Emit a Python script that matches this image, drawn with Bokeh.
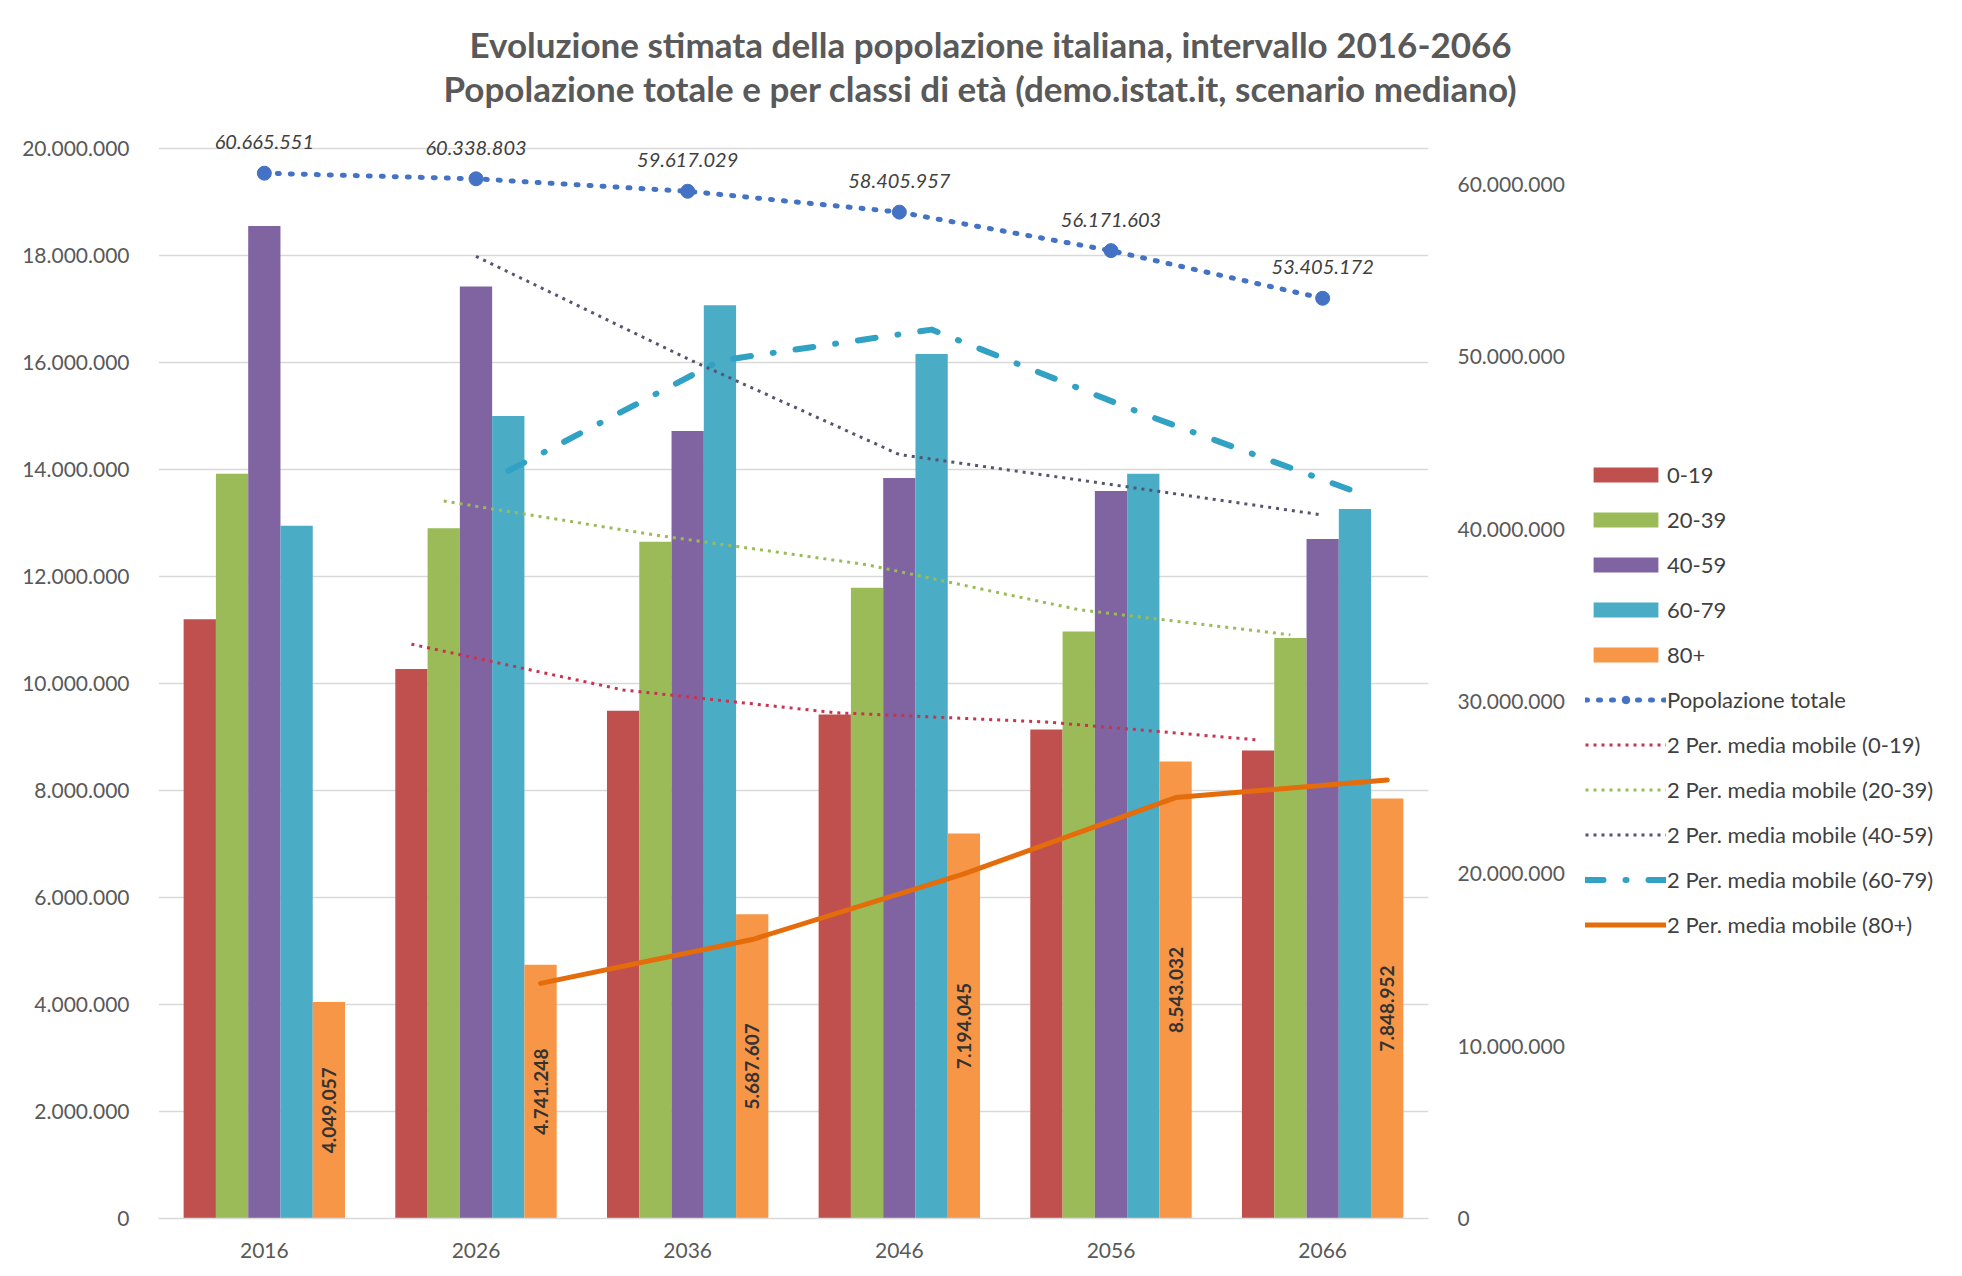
from bokeh.plotting import figure
from bokeh.models import (FactorRange, Range1d, LinearAxis, FixedTicker, Legend, LegendItem,
                          ColumnDataSource, LabelSet, Title)
from bokeh.layouts import row
from bokeh.transform import dodge
from bokeh.core.properties import value
from bokeh.embed import file_html
from bokeh.resources import INLINE
import math

# ---------------- data ----------------
years = ["2016", "2026", "2036", "2046", "2056", "2066"]
age_0_19 = [11200000, 10270000, 9490000, 9420000, 9140000, 8750000]
age_20_39 = [13920000, 12900000, 12650000, 11790000, 10970000, 10850000]
age_40_59 = [18550000, 17420000, 14720000, 13840000, 13600000, 12700000]
age_60_79 = [12950000, 15000000, 17070000, 16160000, 13920000, 13260000]
age_80_plus = [4049057, 4741248, 5687607, 7194045, 8543032, 7848952]
pop_totale = [60665551, 60338803, 59617029, 58405957, 56171603, 53405172]
series_names = ["0-19", "20-39", "40-59", "60-79", "80+"]
left_ticks = [0, 2000000, 4000000, 6000000, 8000000, 10000000, 12000000,
              14000000, 16000000, 18000000, 20000000]
right_ticks = [0, 10000000, 20000000, 30000000, 40000000, 50000000, 60000000]
title_1 = "Evoluzione stimata della popolazione italiana, intervallo 2016-2066"
title_2 = "Popolazione totale e per classi di età (demo.istat.it, scenario mediano)"
pop_label = "Popolazione totale"
ma_label = "2 Per. media mobile ({})"

# ---------------- styles ----------------
bar_colors = ["#C0504D", "#9BBB59", "#8064A2", "#4BACC6", "#F79646"]
ma_colors = ["#C8334F", "#9BBB59", "#555570", "#31A2C4", "#E46C0A"]
ma_widths = [3, 3, 3, 6, 5]
ma_dashes = ["3 5", "3 5", "3 5", "18 22 1 22", "solid"]
ma_caps = ["butt", "butt", "butt", "round", "round"]
pop_color = "#4472C4"
offsets = [-0.305, -0.1525, 0.0, 0.1525, 0.305]
bar_w = 0.1525
FONT = "Lato"
TXT = "#595959"
LEFT_MAX = 20748000     # axis tops (frame extends above the 20.000.000 gridline)
RIGHT_MAX = 64420000


def fmt(v):
    return f"{int(round(v)):,}".replace(",", ".")


series = [age_0_19, age_20_39, age_40_59, age_60_79, age_80_plus]
cols = ["a0", "a1", "a2", "a3", "a4"]

data = dict(year=years, pop=pop_totale, pop_lbl=[fmt(v) for v in pop_totale],
            half80=[v / 2 for v in age_80_plus], lbl80=[fmt(v) for v in age_80_plus])
for c, s in zip(cols, series):
    data[c] = s
src = ColumnDataSource(data)

p = figure(width=1568, height=1276, x_range=FactorRange(factors=years),
           y_range=Range1d(0, LEFT_MAX), output_backend="svg", toolbar_location=None,
           min_border_left=158, min_border_right=140, min_border_top=108, min_border_bottom=58,
           background_fill_color="white", border_fill_color="white", outline_line_color=None)
p.extra_y_ranges = {"pop": Range1d(0, RIGHT_MAX)}

# bars
for c, off, col in zip(cols, offsets, bar_colors):
    p.vbar(x=dodge("year", off, range=p.x_range), top=c, width=bar_w, source=src,
           fill_color=col, line_color=None)

# moving averages (2 periods)
for s, off, col, w, d, cap in zip(series, offsets, ma_colors, ma_widths, ma_dashes, ma_caps):
    ma = [(a + b) / 2 for a, b in zip(s[:-1], s[1:])]
    msrc = ColumnDataSource(dict(year=years[1:], ma=ma))
    p.line(x=dodge("year", off, range=p.x_range), y="ma", source=msrc, line_color=col,
           line_width=w, line_dash=d, line_cap=cap, line_join="round")

# total population
p.line(x="year", y="pop", source=src, y_range_name="pop", line_color=pop_color,
       line_width=5, line_dash="2 11", line_cap="round")
p.scatter(x="year", y="pop", source=src, y_range_name="pop", size=14,
          fill_color=pop_color, line_color=pop_color)

pop_labels = LabelSet(x="year", y="pop", text="pop_lbl", source=src, y_range_name="pop",
                      y_offset=31, text_align="center", text_baseline="middle",
                      text_font=value(FONT), text_font_style="italic",
                      text_font_size="20px", text_color="#404040")
p.add_layout(pop_labels)

p.text(x=dodge("year", offsets[4], range=p.x_range), y="half80", text="lbl80", source=src,
       angle=math.pi / 2, text_align="center", text_baseline="middle",
       text_font=value(FONT), text_font_style="bold", text_font_size="19px",
       text_color="#333333")

# axes
xa = p.xaxis[0]
xa.axis_line_color = "#D9D9D9"
xa.axis_line_width = 1.5
xa.major_tick_line_color = None
xa.minor_tick_line_color = None
xa.major_label_standoff = 18
xa.major_label_text_font = FONT
xa.major_label_text_font_size = "21px"
xa.major_label_text_color = TXT

ya = p.yaxis[0]
ya.ticker = FixedTicker(ticks=left_ticks)
ya.major_label_overrides = {t: fmt(t) for t in left_ticks}
ya.axis_line_color = None
ya.major_tick_line_color = None
ya.minor_tick_line_color = None
ya.major_label_standoff = 23
ya.major_label_text_font = FONT
ya.major_label_text_font_size = "21px"
ya.major_label_text_color = TXT

ra = LinearAxis(y_range_name="pop", ticker=FixedTicker(ticks=right_ticks),
                major_label_overrides={t: fmt(t) for t in right_ticks},
                axis_line_color=None, major_tick_line_color=None, minor_tick_line_color=None,
                major_label_standoff=23, major_label_text_font=FONT,
                major_label_text_font_size="21px", major_label_text_color=TXT)
p.add_layout(ra, "right")

p.xgrid.grid_line_color = None
p.ygrid.grid_line_color = "#D9D9D9"
p.ygrid.grid_line_width = 1.5

# titles (second line added first: it sits closest to the plot)
p.add_layout(Title(text=title_2, align="left", offset=285, text_font=FONT,
                   text_font_style="bold", text_font_size="35px", text_color=TXT,
                   standoff=0), "above")
p.add_layout(Title(text=title_1, align="left", offset=311, text_font=FONT,
                   text_font_style="bold", text_font_size="35px", text_color=TXT,
                   standoff=0), "above")

# ---------------- legend panel (separate figure to the right) ----------------
lg = figure(width=394, height=1276, x_range=Range1d(0, 1), y_range=Range1d(0, 1),
            output_backend="svg", toolbar_location=None, x_axis_location=None,
            y_axis_location=None, min_border_left=0, min_border_right=0, min_border_top=0,
            min_border_bottom=0, background_fill_color="white", border_fill_color="white",
            outline_line_color=None)
lg.grid.visible = False

# legend-only glyphs: one placeholder point each, kept outside the visible range
hidden = dict(x=[5.0], y=[5.0])
items = []
for n, col in zip(series_names, bar_colors):
    r = lg.vbar(x=hidden["x"], top=hidden["y"], width=0.1, fill_color=col, line_color=None)
    items.append(LegendItem(label=n, renderers=[r]))
rl = lg.line(x=hidden["x"], y=hidden["y"], line_color=pop_color, line_width=5,
             line_dash="2 11", line_cap="round")
rs = lg.scatter(x=hidden["x"], y=hidden["y"], size=14, fill_color=pop_color,
                line_color=pop_color)
items.append(LegendItem(label=pop_label, renderers=[rl, rs]))
for n, col, w, d, cap in zip(series_names, ma_colors, ma_widths, ma_dashes, ma_caps):
    r = lg.line(x=hidden["x"], y=hidden["y"], line_color=col, line_width=w, line_dash=d,
                line_cap=cap)
    items.append(LegendItem(label=ma_label.format(n), renderers=[r]))

legend = Legend(items=items, location=(17, 280), padding=0, margin=0,
                glyph_width=81, glyph_height=19, label_height=26, spacing=18,
                label_standoff=1, label_text_font=FONT, label_text_font_size="22px",
                label_text_color="#404040", border_line_color=None,
                background_fill_alpha=0)
lg.add_layout(legend)

layout = row(p, lg, spacing=0)
open("out.html", "w").write(file_html(layout, INLINE))
